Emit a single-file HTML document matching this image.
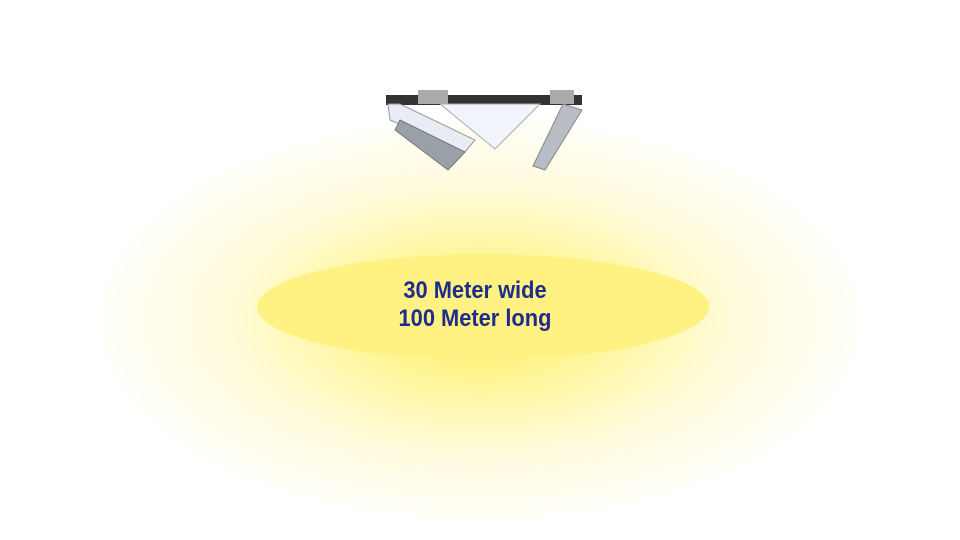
<!DOCTYPE html>
<html><head><style>
html,body{margin:0;padding:0;width:960px;height:540px;overflow:hidden;background:#fff;}
.glow{position:absolute;left:100px;top:120px;width:760px;height:400px;border-radius:50%;
background:radial-gradient(ellipse at center,rgba(255,238,70,0.9) 0%,rgba(255,242,120,0.7) 25%,rgba(255,247,170,0.4) 48%,rgba(255,252,220,0.12) 72%,rgba(255,255,240,0.03) 88%,rgba(255,255,255,0) 100%);}
.ell{position:absolute;left:257px;top:254px;width:452px;height:106px;border-radius:50%;background:#fff283;box-shadow:0 0 1px #fff8b0;}
.txt{position:absolute;left:249px;top:277px;width:452px;text-align:center;font-family:"Liberation Sans",sans-serif;font-weight:bold;font-size:24px;line-height:28px;color:#1f2d8a;transform:scaleX(0.91);transform-origin:50% 0;}
svg{position:absolute;left:0;top:0;}
</style></head><body>
<div class="glow"></div>
<div class="ell"></div>
<div class="txt">30 Meter wide<br>100 Meter long</div>
<svg width="960" height="540">
<rect x="386" y="95" width="196" height="10" fill="#333"/>
<rect x="418" y="90" width="30" height="14" fill="#aaa"/>
<rect x="550" y="90" width="24" height="14" fill="#aaa"/>
<polygon points="388,104 400,104 475,140 465,152 390,120" fill="#e8ecf5" stroke="#999"/>
<polygon points="400,120 465,152 448,170 395,130" fill="#9aa0a8" stroke="#777"/>
<polygon points="440,104 540,104 495,149" fill="#f2f4fb" stroke="#aaa"/>
<polygon points="563,104 582,110 545,170 533,166" fill="#b8bcc4" stroke="#888"/>
</svg>
</body></html>
